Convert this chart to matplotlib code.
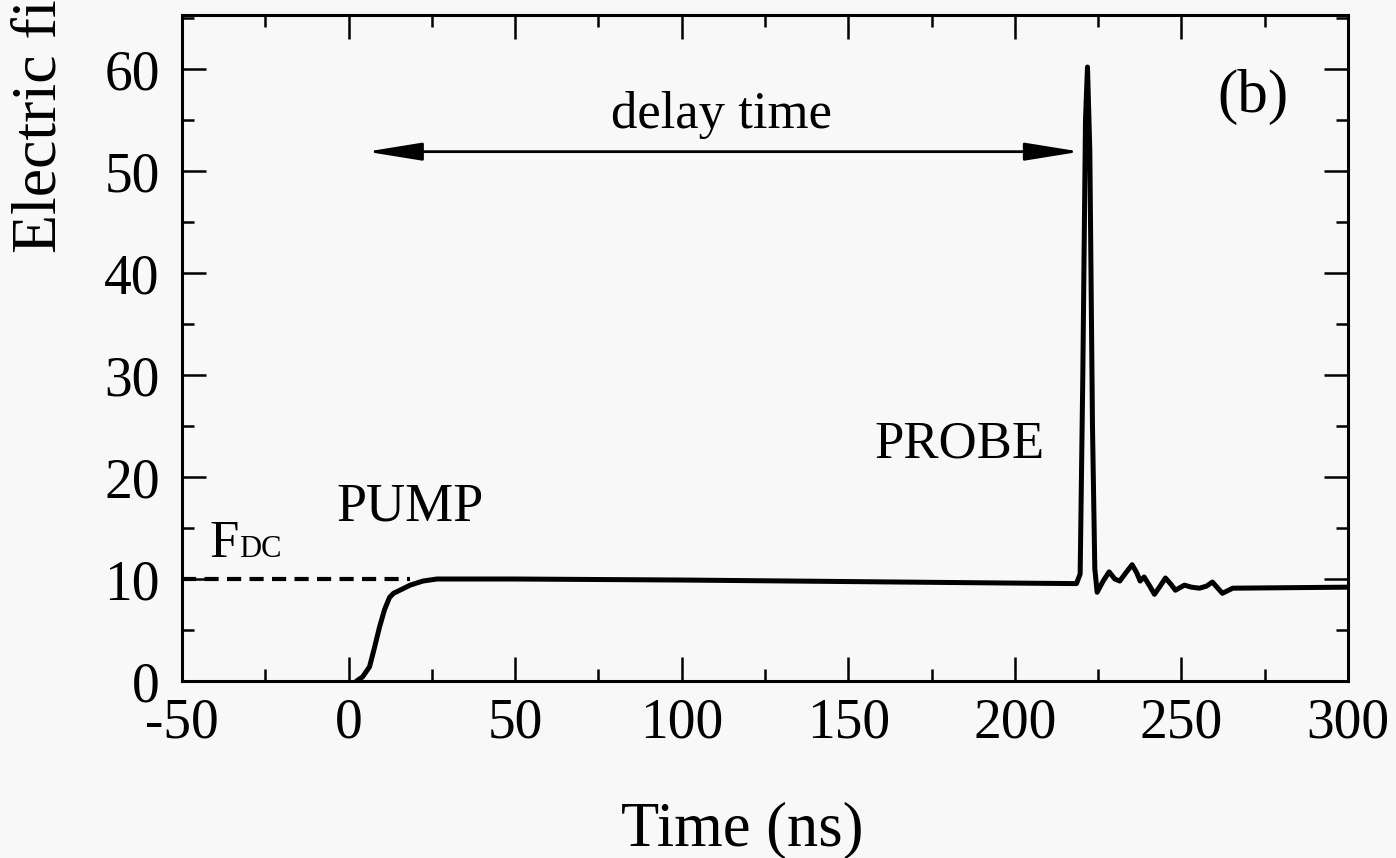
import numpy as np
import matplotlib
matplotlib.use('Agg')
import matplotlib.pyplot as plt
from matplotlib.ticker import MultipleLocator

plt.rcParams['font.family'] = ['Liberation Serif', 'DejaVu Serif']

# field trace (time in ns, field)
t = [2.4, 4.2, 6.3, 7.8, 9.3, 10.8, 12.3, 13.5, 15.4, 18.5, 22.3, 26.5, 50,
     100, 150, 200, 218.5,
     219.6, 220.4, 221.2, 221.8, 222.5, 223.3, 224.0, 224.7, 226.5, 228.3,
     230.0, 231.5, 233.3, 235.2, 236.6, 237.6, 238.8, 240.5, 241.9, 243.6,
     245.2, 246.8, 248.2, 250.9, 253.0, 255.4, 257.5, 259.3, 262.3, 265.4, 300]
field = [0, 0.4, 1.4, 3.3, 5.3, 7.0, 8.2, 8.6, 8.9, 9.4, 9.8, 10.0, 10.0,
         9.9, 9.75, 9.6, 9.55,
         10.5, 30, 55, 60.2, 52, 25, 11, 8.7, 9.8, 10.7,
         10.0, 9.8, 10.6, 11.4, 10.6, 9.8, 10.2, 9.3, 8.5, 9.3,
         10.1, 9.5, 8.9, 9.4, 9.2, 9.1, 9.3, 9.7, 8.6, 9.1, 9.2]

fdc_t = [-50, 18.5]
fdc = [10.0, 10.0]

xticks = np.arange(-50, 301, 50)
yticks = np.arange(0, 61, 10)

bg = '#f8f8f8'
fig = plt.figure(figsize=(13.96, 8.58), dpi=100, facecolor=bg)
ax = fig.add_axes([182/1396, 1-681/858, (1348-182)/1396, (681-15)/858])
ax.set_facecolor(bg)

ax.plot(fdc_t, fdc, color='k', lw=3, dashes=(3.4, 2.0))
ax.plot(t, field, color='k', lw=3.6, solid_joinstyle='round', solid_capstyle='round')

ax.set_xlim(-50, 300)
ax.set_ylim(0, 65.3)
ax.set_xticks(xticks)
ax.set_yticks(yticks)
ax.set_xticklabels([str(v) for v in xticks])
ax.xaxis.set_minor_locator(MultipleLocator(25))
ax.yaxis.set_minor_locator(MultipleLocator(5))
ax.tick_params(which='both', direction='in', top=True, right=True, width=1.8, labelsize=40)
ax.tick_params(which='major', length=17)
ax.tick_params(which='minor', length=8.5)
ax.tick_params(axis='x', which='major', pad=12)
ax.tick_params(axis='y', which='major', pad=16)
for s in ax.spines.values():
    s.set_linewidth(2.2)

# annotations
ax.annotate('', xy=(5.4, 51.9), xytext=(219.6, 51.9),
            arrowprops=dict(arrowstyle='<|-|>,head_length=34,head_width=5.5',
                            mutation_scale=1, lw=2, color='k', shrinkA=0, shrinkB=0))
ax.text(112, 54.2, 'delay time', fontsize=38, ha='center', va='baseline')
ax.text(-3.6, 15.7, 'PUMP', fontsize=39, va='baseline')
ax.text(158, 21.9, 'PROBE', fontsize=38, va='baseline')
ax.text(-41.9, 12.2, 'F', fontsize=38, va='baseline')
ax.text(-32.8, 12.2, 'DC', fontsize=22, va='baseline')
ax.text(271.4, 55.8, '(b)', fontsize=44, ha='center', va='baseline')

fig.text(742/1396, 1-845/858, 'Time (ns)', fontsize=45, ha='center', va='baseline')
fig.text(40/1396, 1-253/858, 'Electric field (kV/cm)', fontsize=46, rotation=90,
         ha='center', va='bottom')

fig.savefig('out.png', dpi=100, facecolor=bg)
